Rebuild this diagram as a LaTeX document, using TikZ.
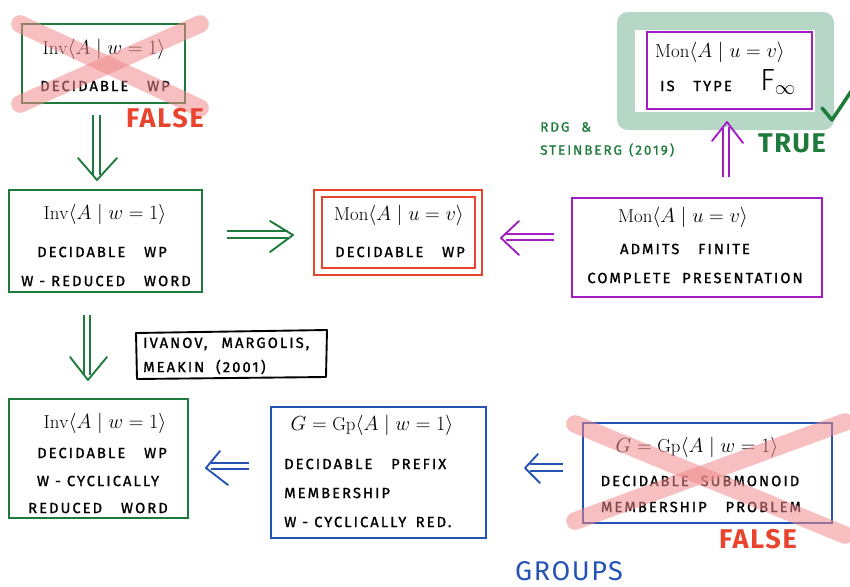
\documentclass[tikz,border=0pt]{standalone}
\usepackage{fontspec}
\usetikzlibrary{calc,fit}
\newfontfamily\hand[LetterSpace=14,FakeBold=1.2]{Fira Sans}
\newfontfamily\handbold[LetterSpace=6]{Fira Sans}
\definecolor{cgreen}{HTML}{1E7B3C}
\definecolor{cred}{HTML}{E8442E}
\definecolor{cpurple}{HTML}{A31CC4}
\definecolor{cblue}{HTML}{2553B5}
\definecolor{cframe}{HTML}{B6D7C5}
\definecolor{cpink}{HTML}{F08A8A}
\begin{document}
\begin{tikzpicture}[x=0.85pt,y=-0.85pt,
  bx/.style={draw, line width=1.6pt, inner sep=0pt},
  gbox/.style={bx, draw=cgreen},
  rbox/.style={bx, draw=cred},
  pbox/.style={bx, draw=cpurple},
  bbox/.style={bx, draw=cblue},
  mth/.style={font=\fontsize{16}{19}\selectfont, inner sep=0pt},
  hw/.style={font=\hand\fontsize{12.5}{14}\selectfont, inner sep=0pt},
  hwbig/.style={font=\handbold\bfseries\fontsize{23}{26}\selectfont, inner sep=0pt},
  cross/.style={draw=cpink, draw opacity=0.55, line width=15pt, line cap=round},
  arr/.style={line width=1.6pt, line cap=round, line join=round},
  dbl/.style={arr, double=white, double distance=4.2pt, line cap=butt},
]
\useasboundingbox (0,0) rectangle (850,587);

% ---------- top-left box (false) ----------
\node[gbox, fit={(22,24) (185,103)}] (A) {};
\node[mth] (At) at (104,49) {$\mathrm{Inv}\langle A\mid w=1\rangle$};
\node[hw] (Ah) at (105,86) {DECIDABLE\hspace{16pt}WP};
\draw[cross] (20,24) -- (200,108);
\draw[cross] (200,24) -- (20,104);
\node[hwbig, text=cred] (Af) at (165,118) {FALSE};

% ---------- middle-left box ----------
\node[gbox, fit={(9,190) (202,292)}] (B) {};
\node[mth] (Bt) at (105,214) {$\mathrm{Inv}\langle A\mid w=1\rangle$};
\node[hw] (Bh1) at (102,252) {DECIDABLE\hspace{16pt}WP};
\node[hw] (Bh2) at (106,281) {W - REDUCED\hspace{16pt}WORD};

% ---------- red double box ----------
\node[rbox, fit={(314,190) (482,275)}] (C) {};
\node[rbox, fit={(322,197) (475,268)}] (Ci) {};
\node[mth] (Ct) at (399,215) {$\mathrm{Mon}\langle A\mid u=v\rangle$};
\node[hw] (Ch) at (400,252) {DECIDABLE\hspace{16pt}WP};

% ---------- purple box ----------
\node[pbox, fit={(572,198) (822,297)}] (D) {};
\node[mth] (Dt) at (683,217) {$\mathrm{Mon}\langle A\mid u=v\rangle$};
\node[hw] (Dh1) at (685,249) {ADMITS\hspace{16pt}FINITE};
\node[hw] (Dh2) at (695,278) {COMPLETE\hspace{10pt}PRESENTATION};

% ---------- top-right box (true) ----------
\fill[cframe, rounded corners=9pt] (617,12) rectangle (834,130);
\fill[white] (635,30) rectangle (815,112);
\node[pbox, fit={(647,32) (812,109)}] (T) {};
\node[mth] (Tt) at (720,52) {$\mathrm{Mon}\langle A\mid u=v\rangle$};
\node[hw, anchor=west] (Th) at (660,86) {IS\hspace{16pt}TYPE};
\node[inner sep=0pt, anchor=west] (Tf) at (760,82) {{\fontspec{Fira Sans Light}\fontsize{26}{26}\selectfont F}\raisebox{-4pt}{\fontsize{17}{17}\selectfont$\infty$}};
\draw[cgreen, line width=3pt, line cap=round, line join=round] (822,108) -- (832,120) -- (852,90);
\node[hwbig, text=cgreen] (Tr) at (792,143) {TRUE};
\node[hw, text=cgreen, anchor=west, font=\hand\fontsize{11.5}{13}\selectfont] (R1) at (540,127) {RDG\hspace{10pt}\&};
\node[hw, text=cgreen, anchor=west, font=\hand\fontsize{11.5}{13}\selectfont] (R2) at (540,150) {STEINBERG\hspace{6pt}(2019)};

% ---------- reference box ----------
\draw[line width=1.6pt, line join=round] (136,333) -- (327,330) -- (326,377) -- (137,379) -- cycle;
\node[hw, anchor=west] (I1) at (143,344) {IVANOV,\hspace{12pt}MARGOLIS,};
\node[hw, anchor=west] (I2) at (143,367) {MEAKIN\hspace{10pt}(2001)};

% ---------- bottom-left box ----------
\node[gbox, fit={(9,399) (188,518)}] (E) {};
\node[mth] (Et) at (105,423) {$\mathrm{Inv}\langle A\mid w=1\rangle$};
\node[hw] (Eh1) at (102,453) {DECIDABLE\hspace{16pt}WP};
\node[hw] (Eh2) at (98,481) {W - CYCLICALLY};
\node[hw] (Eh3) at (98,508) {REDUCED\hspace{16pt}WORD};

% ---------- bottom-middle box ----------
\node[bbox, fit={(271,407) (486,538)}] (F) {};
\node[mth] (Ft) at (372,425) {$G=\mathrm{Gp}\langle A\mid w=1\rangle$};
\node[hw, anchor=west] (Fh1) at (284,464) {DECIDABLE\hspace{16pt}PREFIX};
\node[hw, anchor=west] (Fh2) at (284,493) {MEMBERSHIP};
\node[hw, anchor=west] (Fh3) at (284,522) {W - CYCLICALLY\hspace{8pt}RED.};

% ---------- bottom-right box (false) ----------
\node[bbox, fit={(583,423) (832,523)}] (G) {};
\node[mth] (Gt) at (697,447) {$G=\mathrm{Gp}\langle A\mid w=1\rangle$};
\node[hw] (Gh1) at (700,481) {DECIDABLE\hspace{10pt}SUBMONOID};
\node[hw] (Gh2) at (701,507) {MEMBERSHIP\hspace{16pt}PROBLEM};
\draw[cross] (575,424) -- (845,535);
\draw[cross] (575,521) -- (845,422);
\node[hwbig, text=cred] (Gf) at (758,539) {FALSE};
\node[inner sep=0pt, text=cblue, font=\handbold\fontsize{23}{26}\selectfont] (Gr) at (569,571) {GROUPS};

% ---------- arrows ----------
% A => B (down)
\coordinate (a1s) at (96.5,115); \coordinate (a1e) at (96.5,175); \coordinate (a1h) at (97,180);
\draw[dbl, draw=cgreen] (a1s) -- (a1e);
\draw[arr, cgreen] (78,158) -- (a1h) -- (117,158);
% B => C (right)
\coordinate (a2s) at (227,234.5); \coordinate (a2e) at (288,234.5); \coordinate (a2h) at (293,235);
\draw[dbl, draw=cgreen] (a2s) -- (a2e);
\draw[arr, cgreen] (270,221) -- (a2h) -- (270,252);
% D => C (left)
\coordinate (a3s) at (554,237); \coordinate (a3e) at (506,237); \coordinate (a3h) at (501,238);
\draw[dbl, draw=cpurple] (a3s) -- (a3e);
\draw[arr, cpurple] (519,221) -- (a3h) -- (519,255);
% D => T (up)
\coordinate (a4s) at (726,177); \coordinate (a4e) at (726,127); \coordinate (a4h) at (727,122);
\draw[dbl, draw=cpurple] (a4s) -- (a4e);
\draw[arr, cpurple] (712,141) -- (a4h) -- (743,143);
% B => E (down)
\coordinate (a5s) at (87,315); \coordinate (a5e) at (87,375); \coordinate (a5h) at (88,380);
\draw[dbl, draw=cgreen] (a5s) -- (a5e);
\draw[arr, cgreen] (70,357) -- (a5h) -- (107,357);
% F => E (left)
\coordinate (a6s) at (249,466); \coordinate (a6e) at (211,466); \coordinate (a6h) at (206,468);
\draw[dbl, draw=cblue] (a6s) -- (a6e);
\draw[arr, cblue] (220,451) -- (a6h) -- (228,485);
% G => F (left)
\coordinate (a7s) at (563,467.5); \coordinate (a7e) at (530,467.5); \coordinate (a7h) at (525,468);
\draw[dbl, draw=cblue] (a7s) -- (a7e);
\draw[arr, cblue] (538,454) -- (a7h) -- (540,483);
\end{tikzpicture}
\end{document}
